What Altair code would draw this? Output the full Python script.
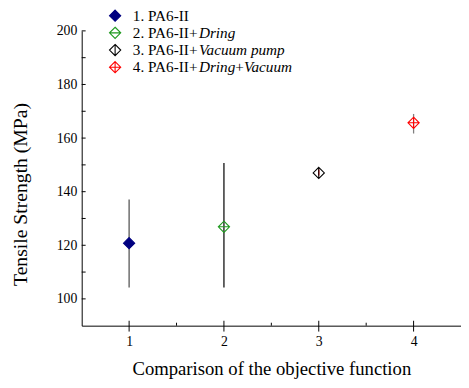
import altair as alt
import pandas as pd

# ---- data ----
series = ["1. PA6-II", "2. PA6-II+Dring", "3. PA6-II+Vacuum pump", "4. PA6-II+Dring+Vacuum"]
x_pos = [1, 2, 3, 4]
means = [120.8, 126.9, 147.0, 165.7]
err_low = [104.2, 104.2, 146.0, 161.7]
err_high = [137.1, 150.7, 148.3, 169.0]
marker_colors = ["#000080", "#1f9a1f", "#000000", "#ff0000"]
bar_colors = ["#555555", "#111111", "#ee0000", "#808080"]
marker_fill = ["#000080", "transparent", "transparent", "transparent"]
y_ticks_major = [100, 120, 140, 160, 180, 200]
y_ticks_minor = [110, 130, 150, 170, 190]
x_ticks_major = [1, 2, 3, 4]
x_ticks_minor = [1.5, 2.5, 3.5]
# legend label segments: (row, text, italic)
legend_segments = [
    (0, "1. PA6-II", False),
    (1, "2. PA6-II+", False), (1, "Dring", True),
    (2, "3. PA6-II+", False), (2, "Vacuum pump", True),
    (3, "4. PA6-II+", False), (3, "Dring", True), (3, "+", False), (3, "Vacuum", True),
]

DIAMOND = "M0,-1L1,0L0,1L-1,0Z"
shapes = [DIAMOND, DIAMOND + "M-1,0L1,0", DIAMOND + "M0,-1L0,1", DIAMOND + "M-1,0L1,0M0,-1L0,1"]

FONT = "Liberation Serif"
W, H = 386, 300
LEG_FS = 15.5

# Times New Roman advance widths (1/1000 em) for text layout of the legend
REG = {**{d: 500 for d in "0123456789"}, ".": 250, " ": 250, "P": 556, "A": 722, "-": 333,
       "I": 333, "+": 564}
ITA = {"D": 722, "r": 389, "i": 278, "n": 500, "g": 500, "V": 611, "a": 500, "c": 444,
       "u": 500, "m": 722, "p": 500, " ": 250}


def text_width(s, italic):
    table = ITA if italic else REG
    return sum(table.get(ch, 500) for ch in s) * LEG_FS / 1000.0


df = pd.DataFrame({"series": series, "x": x_pos, "mean": means, "lo": err_low, "hi": err_high,
                   "mc": marker_colors, "bc": bar_colors, "fill": marker_fill})

shape_scale = alt.Scale(domain=series, range=shapes)

errbars = alt.Chart(df).mark_rule(strokeWidth=1.3).encode(
    x=alt.X("x:Q", scale=alt.Scale(domain=[0.5, 4.5], nice=False, zero=False),
            axis=alt.Axis(values=x_ticks_major, format="d", ticks=False, grid=False,
                          labelPadding=9, title="Comparison of the objective function",
                          titleFontSize=19, titleY=44, titleBaseline="middle")),
    y=alt.Y("lo:Q", scale=alt.Scale(domain=[90, 200], nice=False, zero=False),
            axis=alt.Axis(values=y_ticks_major, ticks=False, grid=False, labelPadding=5,
                          title="Tensile Strength (MPa)", titleFontSize=20,
                          titleX=-62, titleY=166, titleBaseline="middle")),
    y2="hi:Q",
    color=alt.Color("bc:N", scale=None),
)

points = alt.Chart(df).mark_point(size=130, strokeWidth=1.1, opacity=1).encode(
    x="x:Q",
    y="mean:Q",
    shape=alt.Shape("series:N", scale=shape_scale, legend=None),
    stroke=alt.Stroke("mc:N", scale=None),
    fill=alt.Fill("fill:N", scale=None),
)

# axis ticks
ytick_df = pd.DataFrame({"v": y_ticks_major + y_ticks_minor})
yticks = alt.Chart(ytick_df).mark_rule(color="black", strokeWidth=1).encode(
    y="v:Q", x=alt.value(0), x2=alt.value(4))
xmaj_df = pd.DataFrame({"v": x_ticks_major})
xticks_major = alt.Chart(xmaj_df).mark_rule(color="black", strokeWidth=1).encode(
    x="v:Q", y=alt.value(H - 5), y2=alt.value(H + 6))
xmin_df = pd.DataFrame({"v": x_ticks_minor})
xticks_minor = alt.Chart(xmin_df).mark_rule(color="black", strokeWidth=1).encode(
    x="v:Q", y=alt.value(H - 3), y2=alt.value(H))

# legend (manual, to allow mixed upright / italic text)
LEG_X, LEG_Y0, LEG_DY = 34, -15.5, 17.5
leg_sym = pd.DataFrame({"series": series, "lx": [LEG_X] * 4,
                        "ly": [LEG_Y0 + i * LEG_DY for i in range(4)],
                        "mc": marker_colors, "fill": marker_fill})
legend_symbols = alt.Chart(leg_sym).mark_point(size=130, strokeWidth=1.1, opacity=1).encode(
    x=alt.X("lx:Q", scale=None), y=alt.Y("ly:Q", scale=None),
    shape=alt.Shape("series:N", scale=shape_scale, legend=None),
    stroke=alt.Stroke("mc:N", scale=None),
    fill=alt.Fill("fill:N", scale=None),
)

rows = []
offsets = {}
for r, t, it in legend_segments:
    x0 = offsets.get(r, LEG_X + 18)
    rows.append({"tx": x0, "ty": LEG_Y0 + r * LEG_DY, "t": t, "it": it})
    offsets[r] = x0 + text_width(t, it)
seg = pd.DataFrame(rows)

legend_reg = alt.Chart(seg[~seg["it"]]).mark_text(
    align="left", baseline="middle", font=FONT, fontSize=LEG_FS, color="black").encode(
    x=alt.X("tx:Q", scale=None), y=alt.Y("ty:Q", scale=None), text="t:N")
legend_ita = alt.Chart(seg[seg["it"]]).mark_text(
    align="left", baseline="middle", font=FONT, fontSize=LEG_FS, fontStyle="italic",
    color="black").encode(
    x=alt.X("tx:Q", scale=None), y=alt.Y("ty:Q", scale=None), text="t:N")

chart = alt.layer(
    errbars, yticks, xticks_major, xticks_minor, points, legend_symbols, legend_reg, legend_ita
).properties(
    width=W, height=H,
    background="white",
    autosize=alt.AutoSizeParams(type="none"),
    padding={"left": 75, "top": 20, "right": 0, "bottom": 52},
).configure_view(stroke=None).configure_axis(
    labelFont=FONT, titleFont=FONT, labelFontSize=14,
    labelColor="black", titleColor="black", titleFontWeight="normal",
    domainColor="black", domainWidth=1,
)

chart.save("out.html", embed_options={"renderer": "svg", "actions": False})
